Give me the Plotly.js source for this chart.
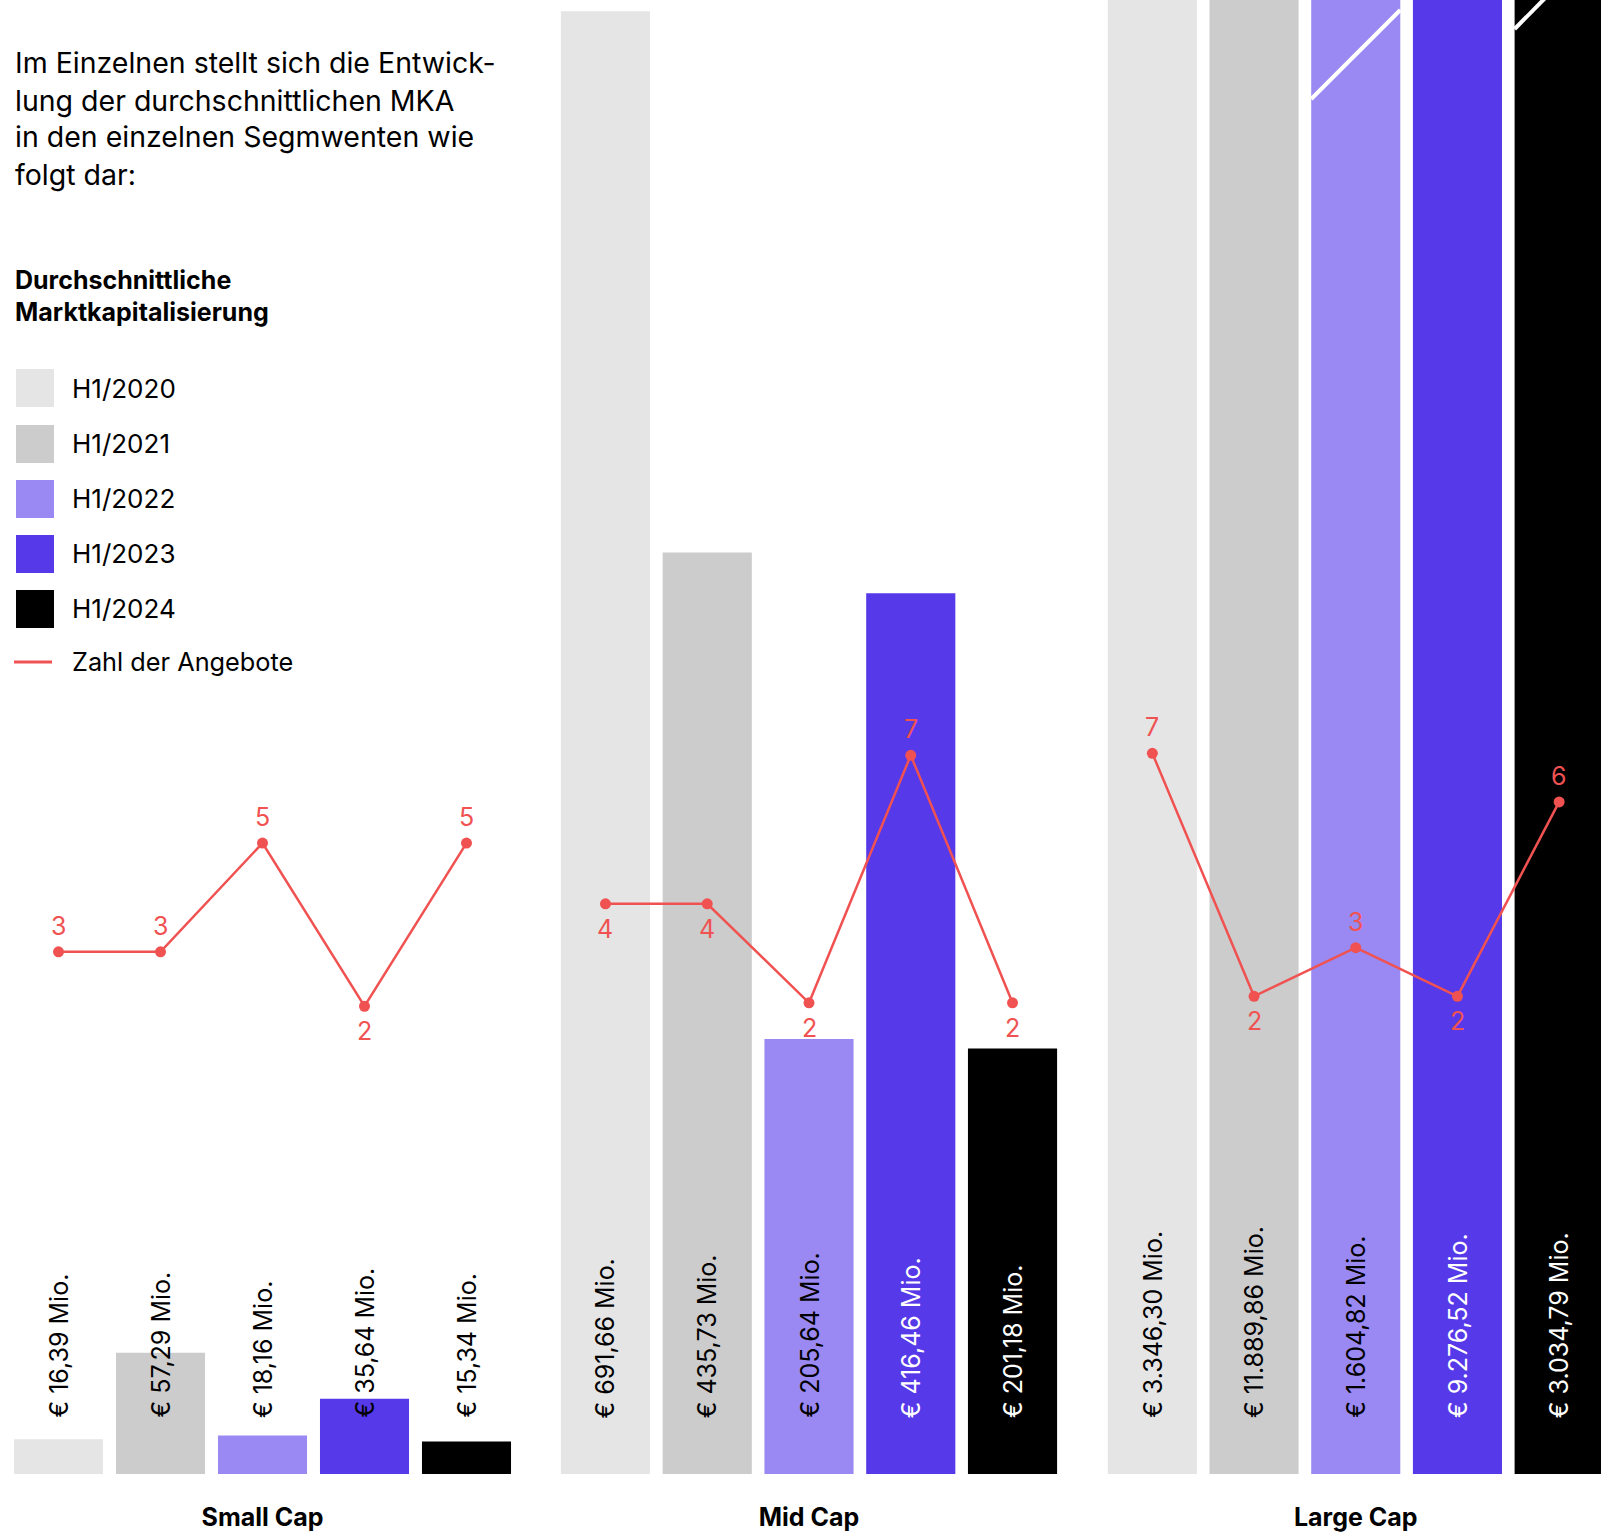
<!DOCTYPE html>
<html><head><meta charset="utf-8">
<script src="https://cdn.plot.ly/plotly-3.0.1.min.js"></script>
<style>html,body{margin:0;padding:0;background:#fff;overflow:hidden;width:1601px;height:1532px;}#chart{width:1610px;height:1532px;}</style>
</head><body><div id="chart"></div>
<script>
// ---------- data ----------
const periods = ['H1/2020', 'H1/2021', 'H1/2022', 'H1/2023', 'H1/2024'];
const segments = ['Small Cap', 'Mid Cap', 'Large Cap'];
const smallCapMio = [16.39, 57.29, 18.16, 35.64, 15.34];
const midCapMio = [691.66, 435.73, 205.64, 416.46, 201.18];
const largeCapMio = [3346.30, 11889.86, 1604.82, 9276.52, 3034.79];
const smallCapOffers = [3, 3, 5, 2, 5];
const midCapOffers = [4, 4, 2, 7, 2];
const largeCapOffers = [7, 2, 3, 2, 6];
const lineName = 'Zahl der Angebote';
const introLines = ['Im Einzelnen stellt sich die Entwick-', 'lung der durchschnittlichen MKA', 'in den einzelnen Segmwenten wie', 'folgt dar:'];
const chartTitleLines = ['Durchschnittliche', 'Marktkapitalisierung'];

// ---------- style ----------
// the figure is slightly wider than the window so the last Large Cap bar is cut at the edge, as in the original
const W = 1610, H = 1532, MB = 58, PH = H - MB;
const FONT = 'Inter, "Noto Sans", Arial, sans-serif';
const barColors = ['#E5E5E5', '#CCCCCC', '#9A89F2', '#5639E8', '#000000'];
const labelColors = ['#000', '#000', '#000', '#fff', '#fff'];
const RED = '#F05252';
const panels = [
  {vals: smallCapMio, offers: smallCapOffers, dom: [7.5 / W, 517.5 / W], w: 0.873, lr: [-6.6, 20.5], side: ['t','t','t','b','t'], smallLabels: true},
  {vals: midCapMio, offers: midCapOffers, dom: [554.6 / W, 1063.4 / W], w: 0.876, lr: [-7.52, 22.26], side: ['b','b','b','t','b']},
  {vals: largeCapMio, offers: largeCapOffers, dom: [1101.5 / W, 1], w: 0.876, lr: [-7.83, 22.5], side: ['t','b','t','b','t']}
];
const BAR_RANGE = [0, 697];

function fmt(v) {
  const parts = v.toFixed(2).split('.');
  const int = parts[0].replace(/\B(?=(\d{3})+(?!\d))/g, '.');
  return int + ',' + parts[1];
}
const yp = py => 1 - py / PH;
const xp = px => px / W;

const data = [];
const layout = {
  width: W, height: H,
  margin: {l: 0, r: 0, t: 0, b: MB, pad: 0},
  paper_bgcolor: '#fff', plot_bgcolor: 'rgba(0,0,0,0)',
  showlegend: false,
  font: {family: FONT, color: '#000'},
  annotations: [], shapes: []
};

panels.forEach((p, k) => {
  const n = k + 1;
  const xa = n === 1 ? 'x' : 'x' + n;
  const ya = n === 1 ? 'y' : 'y' + n;
  const yl = 'y' + (n + 3);
  const xKey = n === 1 ? 'xaxis' : 'xaxis' + n;
  const yKey = n === 1 ? 'yaxis' : 'yaxis' + n;
  layout[xKey] = {
    domain: p.dom, type: 'category', range: [-0.5, 4.5], anchor: ya,
    showgrid: false, zeroline: false, showline: false, showticklabels: false, ticks: '',
    fixedrange: true,
    title: {text: segments[k], standoff: 35, font: {family: FONT, size: 25, weight: 'bold', color: '#000'}}
  };
  layout[yKey] = {domain: [0, 1], range: BAR_RANGE, anchor: xa, visible: false, fixedrange: true};
  layout['yaxis' + (n + 3)] = {range: p.lr, overlaying: ya, anchor: xa, visible: false, fixedrange: true};

  data.push({
    type: 'bar', x: periods, y: p.vals, xaxis: xa, yaxis: ya, width: p.w,
    marker: {color: barColors, line: {width: 0}}, hoverinfo: 'x+y', cliponaxis: true
  });
  data.push({
    type: 'scatter', mode: 'lines+markers', x: periods, y: p.offers, xaxis: xa, yaxis: yl,
    name: lineName, line: {color: RED, width: 2.5}, marker: {color: RED, size: 11}, cliponaxis: false
  });

  p.vals.forEach((v, i) => {
    layout.annotations.push({
      xref: xa, yref: ya, x: periods[i], y: 0, yshift: 54, xanchor: 'center', yanchor: 'bottom',
      textangle: -90, showarrow: false, text: '€ ' + fmt(v) + ' Mio.',
      font: {family: FONT, size: 25, color: p.smallLabels ? '#000' : labelColors[i]}
    });
  });
  p.offers.forEach((v, i) => {
    const top = p.side[i] === 't';
    layout.annotations.push({
      xref: xa, yref: yl, x: periods[i], y: v, yshift: top ? 26 : -25,
      xanchor: 'center', yanchor: 'middle', showarrow: false, text: String(v),
      font: {family: FONT, size: 25, color: RED}
    });
  });
});

// axis-break marks on clipped Large Cap bars
layout.shapes.push({type: 'line', xref: 'x3', yref: 'paper', x0: 2 - 0.438, y0: yp(99), x1: 2 + 0.438, y1: yp(10), line: {color: '#fff', width: 4}});
layout.shapes.push({type: 'line', xref: 'x3', yref: 'paper', x0: 4 - 0.438, y0: yp(29), x1: 4 - 0.438 + 0.33, y1: yp(-5), line: {color: '#fff', width: 4}});

// intro text
const introY = [62.5, 100, 137, 174];
introLines.forEach((t, i) => layout.annotations.push({
  xref: 'paper', yref: 'paper', x: xp(13), y: yp(introY[i]), xanchor: 'left', yanchor: 'middle',
  showarrow: false, text: t, font: {family: FONT, size: 28.5, color: '#000'}
}));
const titleY = [280, 311.5];
chartTitleLines.forEach((t, i) => layout.annotations.push({
  xref: 'paper', yref: 'paper', x: xp(13), y: yp(titleY[i]), xanchor: 'left', yanchor: 'middle',
  showarrow: false, text: t, font: {family: FONT, size: 25, weight: 'bold', color: '#000'}
}));

// legend (drawn manually)
const legY = [388, 444, 499, 554, 609];
periods.forEach((t, i) => {
  layout.shapes.push({type: 'rect', xref: 'paper', yref: 'paper', x0: xp(16), x1: xp(54), y0: yp(legY[i] + 19), y1: yp(legY[i] - 19), fillcolor: barColors[i], line: {width: 0}});
  layout.annotations.push({xref: 'paper', yref: 'paper', x: xp(70), y: yp(legY[i]), xanchor: 'left', yanchor: 'middle', showarrow: false, text: t, font: {family: FONT, size: 26, color: '#000'}});
});
layout.shapes.push({type: 'line', xref: 'paper', yref: 'paper', x0: xp(14), x1: xp(52), y0: yp(662), y1: yp(662), line: {color: RED, width: 3}});
layout.annotations.push({xref: 'paper', yref: 'paper', x: xp(70), y: yp(661), xanchor: 'left', yanchor: 'middle', showarrow: false, text: lineName, font: {family: FONT, size: 25.3, color: '#000'}});

Plotly.newPlot('chart', data, layout, {displayModeBar: false, staticPlot: true});
</script>
</body></html>
